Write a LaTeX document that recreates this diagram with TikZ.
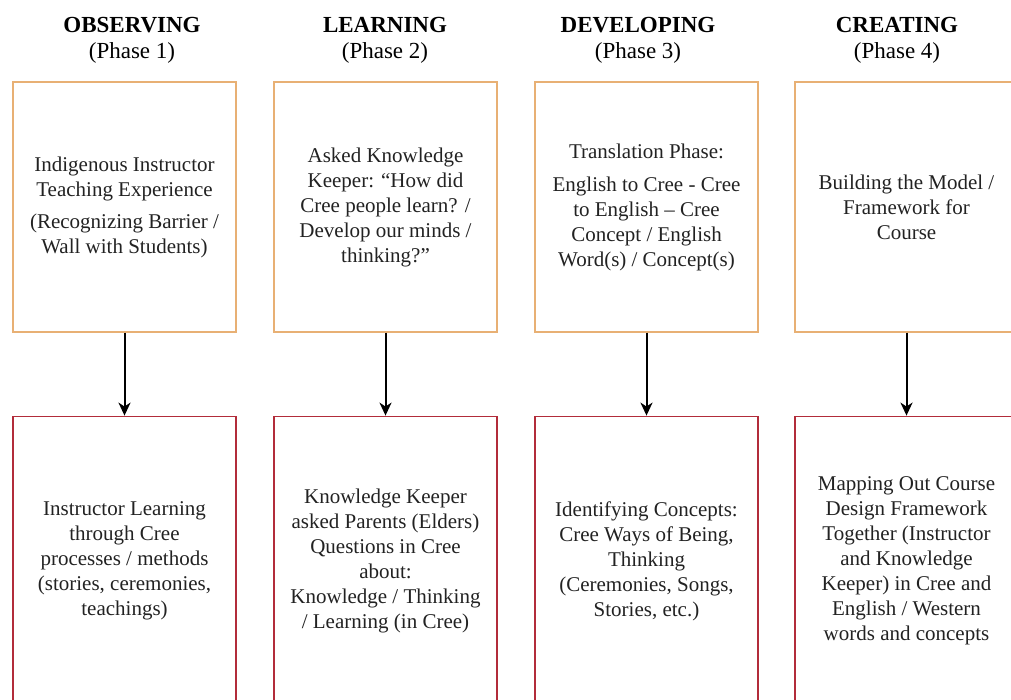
\documentclass[tikz,border=0pt]{standalone}
\usepackage{fontspec}
\setmainfont{Liberation Serif}
\usepackage{tikz}
\usetikzlibrary{positioning}
\usetikzlibrary{arrows.meta}

\definecolor{tan}{RGB}{232,176,116}
\definecolor{brick}{RGB}{178,44,58}
\definecolor{ink}{RGB}{34,34,34}
\newcommand{\bodyfont}{\fontsize{21}{25}\selectfont}
\newcommand{\headfont}{\fontsize{23}{26}\selectfont}

\begin{document}
\begin{tikzpicture}[x=1pt,y=1pt,
phasebox/.style={rectangle, draw=tan, line width=1.2pt, minimum width=223pt, minimum height=250pt, align=center, font=\bodyfont, text=ink},
stepbox/.style={rectangle, draw=brick, line width=1.2pt, minimum width=223pt, minimum height=290pt, align=center, font=\bodyfont, text=ink},
heading/.style={align=center, font=\headfont},
edge/.style={-{Stealth[length=13pt, width=12pt, inset=4pt]}, line width=2pt},
node distance=83pt
]
\clip (0,0) rectangle (1011,-700);

%Headings
\node[heading] (h1) at (132,-40) {\textbf{OBSERVING}\\(Phase 1)};
\node[heading] (h2) at (385,-40) {\textbf{LEARNING}\\(Phase 2)};
\node[heading] (h3) at (638,-40) {\textbf{DEVELOPING}\\(Phase 3)};
\node[heading] (h4) at (897,-40) {\textbf{CREATING}\\(Phase 4)};

%Nodes
\node[phasebox] (obs) at (124.5,-207) {Indigenous Instructor\\Teaching Experience\\[7pt](Recognizing Barrier /\\Wall with Students)};
\node[phasebox] (lrn) at (385.5,-207) {Asked Knowledge\\Keeper: “How did\\Cree people learn? /\\Develop our minds /\\thinking?”};
\node[phasebox] (dev) at (646.5,-207) {Translation Phase:\\[8pt]English to Cree - Cree\\to English – Cree\\Concept / English\\Word(s) / Concept(s)};
\node[phasebox] (cre) at (906.5,-207) {Building the Model /\\Framework for\\Course};

\node[stepbox] (obsB) [below=of obs] {Instructor Learning\\through Cree\\processes / methods\\(stories, ceremonies,\\teachings)};
\node[stepbox] (lrnB) [below=of lrn] {Knowledge Keeper\\asked Parents (Elders)\\Questions in Cree\\about:\\Knowledge / Thinking\\/ Learning (in Cree)};
\node[stepbox] (devB) [below=of dev] {Identifying Concepts:\\Cree Ways of Being,\\Thinking\\(Ceremonies, Songs,\\Stories, etc.)};
\node[stepbox] (creB) [below=of cre] {Mapping Out Course\\Design Framework\\Together (Instructor\\and Knowledge\\Keeper) in Cree and\\English / Western\\words and concepts};

%Lines
\draw[edge] (obs.south) -- (obsB.north);
\draw[edge] (lrn.south) -- (lrnB.north);
\draw[edge] (dev.south) -- (devB.north);
\draw[edge] (cre.south) -- (creB.north);

\end{tikzpicture}
\end{document}
